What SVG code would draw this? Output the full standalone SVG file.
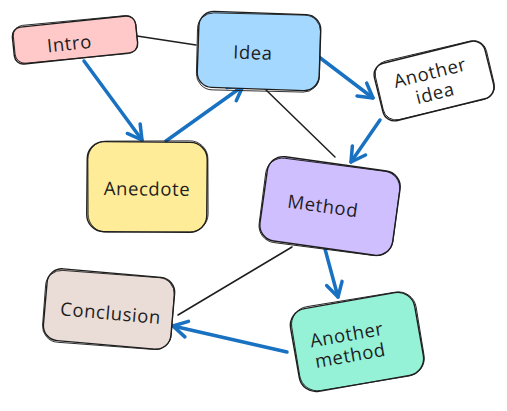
<svg xmlns="http://www.w3.org/2000/svg" width="507" height="411" viewBox="0 0 507 411">
<style>
.box{stroke:#1e1e1e;stroke-width:1.4;}
.sk{fill:none;stroke:#1e1e1e;stroke-width:0.9;}
.lbl{font-family:"Open Sans","Liberation Sans",sans-serif;font-size:18.5px;fill:#1e1e1e;text-anchor:middle;dominant-baseline:central;letter-spacing:0.6px;}
.ln{stroke:#1e1e1e;stroke-width:1.5;fill:none;stroke-linecap:round;}
.ar{stroke:#1971c2;stroke-width:3.5;fill:none;stroke-linecap:round;marker-end:url(#ah);}
</style>
<defs>
<marker id="ah" viewBox="0 0 20 20" refX="17" refY="10" markerWidth="20" markerHeight="20" markerUnits="userSpaceOnUse" orient="auto">
<path d="M3,2 L17,10 L3,18" fill="none" stroke="#1971c2" stroke-width="3.5" stroke-linecap="round" stroke-linejoin="round"/>
</marker>
</defs>
<rect width="507" height="411" fill="#ffffff"/>
<g id="connectors">
<path class="ln" d="M137,36 L196,45"/>
<path class="ln" d="M264,88 L335,157"/>
<path class="ln" d="M292,247 L178,315"/>
<path class="ar" d="M84,61 L142,140"/>
<path class="ar" d="M166,141 L243,86"/>
<path class="ar" d="M319,57 L373,98"/>
<path class="ar" d="M380,120 L351,162"/>
<path class="ar" d="M325,249 L338,297"/>
<path class="ar" d="M287,352 L173,326"/>
</g>
<g id="intro" transform="translate(75,40) rotate(-6)">
<rect class="box" x="-62" y="-18.5" width="124" height="37" rx="9" fill="#ffc9c9"/>
<rect class="sk" x="-61" y="-19.5" width="123" height="38" rx="10" transform="rotate(0.6)"/>
<text class="lbl" x="-6" y="2">Intro</text>
</g>
<g id="idea" transform="translate(259,51) rotate(2)">
<rect class="box" x="-61" y="-38" width="122" height="76" rx="15" fill="#a5d8ff"/>
<rect class="sk" x="-62" y="-37" width="123" height="77" rx="16" transform="rotate(-0.6)"/>
<text class="lbl" x="-6" y="1">Idea</text>
</g>
<g id="another-idea" transform="translate(434,81) rotate(-14)">
<rect class="box" x="-57" y="-29.5" width="114" height="59" rx="12" fill="#ffffff"/>
<rect class="sk" x="-56" y="-30.5" width="114" height="60" rx="13" transform="rotate(0.7)"/>
<text class="lbl" x="-2" y="-10">Another</text>
<text class="lbl" x="-2" y="11">idea</text>
</g>
<g id="anecdote" transform="translate(147,187) rotate(0.5)">
<rect class="box" x="-60" y="-45" width="120" height="90" rx="17" fill="#ffec99"/>
<rect class="sk" x="-59" y="-46" width="120" height="91" rx="18" transform="rotate(-0.7)"/>
<text class="lbl" x="0" y="1">Anecdote</text>
</g>
<g id="method" transform="translate(330,206) rotate(8)">
<rect class="box" x="-67" y="-42.5" width="134" height="85" rx="16" fill="#d0bfff"/>
<rect class="sk" x="-68" y="-41.5" width="135" height="85" rx="17" transform="rotate(-0.6)"/>
<text class="lbl" x="-7" y="0">Method</text>
</g>
<g id="conclusion" transform="translate(109,309) rotate(5)">
<rect class="box" x="-64" y="-36" width="128" height="72" rx="15" fill="#eaddd7"/>
<rect class="sk" x="-65" y="-35" width="129" height="72" rx="16" transform="rotate(-0.7)"/>
<text class="lbl" x="2" y="3">Conclusion</text>
</g>
<g id="another-method" transform="translate(357,342) rotate(-10)">
<rect class="box" x="-63" y="-42" width="126" height="84" rx="17" fill="#96f2d7"/>
<rect class="sk" x="-62" y="-43" width="126" height="85" rx="18" transform="rotate(0.7)"/>
<text class="lbl" x="-9" y="-10">Another</text>
<text class="lbl" x="-9" y="11">method</text>
</g>
</svg>
